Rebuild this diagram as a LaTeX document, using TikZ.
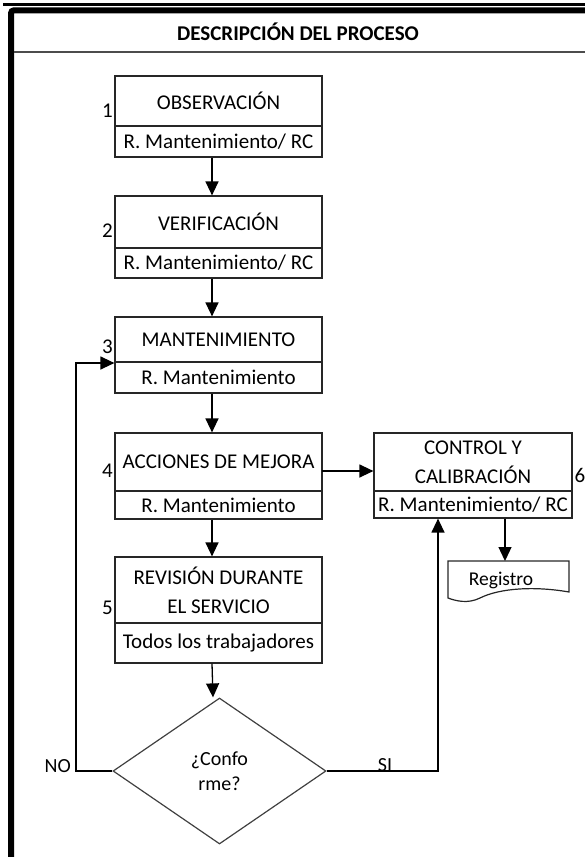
\documentclass[tikz,border=0pt]{standalone}
\usepackage{fontspec}
\setmainfont{Carlito}
\usetikzlibrary{arrows.meta,shapes.geometric}
\tikzset{
  box/.style={draw=black!85, line width=1.2pt, minimum width=207pt, inner sep=0pt, align=center, text=black, font=\fontsize{21}{29}\selectfont},
  rbox/.style={box, minimum width=198pt},
  num/.style={anchor=base east, inner sep=0pt, text=black, font=\fontsize{21}{25}\selectfont},
  lbl/.style={inner sep=0pt, text=black, font=\fontsize{20}{24}\selectfont},
  arr/.style={draw=black, line width=1.3pt, -{Triangle[length=14pt,width=13pt]}},
  ln/.style={draw=black!85, line width=1.3pt},
}
\begin{document}
\begin{tikzpicture}[x=1pt,y=-1pt]
\useasboundingbox (0,0) rectangle (585,857);
% frame
\draw[line width=3.3pt] (3,4.3) -- (590,4.3);
\draw[line width=6pt, rounded corners=3pt] (11,870) -- (11,10.3) -- (590,10.3);
\draw[line width=1.4pt, draw=black!70] (14,52) -- (590,52);
\node[inner sep=0pt, anchor=base, font=\bfseries\fontsize{21}{25}\selectfont] (hdr) at (298,40) {DESCRIPCIÓN DEL PROCESO};
% box 1
\node[box, minimum height=50pt] (b1) at (218.5,101) {OBSERVACIÓN};
\node[box, minimum height=31pt] (b1r) at (218.5,141.5) {R. Mantenimiento/ RC};
% box 2
\node[box, minimum height=52pt] (b2) at (218.5,222) {VERIFICACIÓN};
\node[box, minimum height=30pt] (b2r) at (218.5,263) {R. Mantenimiento/ RC};
% box 3
\node[box, minimum height=45pt] (b3) at (218.5,339.5) {MANTENIMIENTO};
\node[box, minimum height=31pt] (b3r) at (218.5,377.5) {R. Mantenimiento};
% box 4
\node[box, minimum height=58pt] (b4) at (218.5,462) {ACCIONES DE MEJORA};
\node[box, minimum height=28pt] (b4r) at (218.5,505) {R. Mantenimiento};
% box 5
\node[box, minimum height=66pt] (b5) at (218.5,590) {REVISIÓN DURANTE\\EL SERVICIO};
\node[box, minimum height=40pt] (b5r) at (218.5,643) {Todos los trabajadores};
% box 6
\node[rbox, minimum height=58pt] (b6) at (473,462) {CONTROL Y\\CALIBRACIÓN};
\node[rbox, minimum height=27pt] (b6r) at (473,504.5) {R. Mantenimiento/ RC};
% numbers
\node[num] (n1) at (113,117) {1};
\node[num] (n2) at (113,237) {2};
\node[num] (n3) at (113,353) {3};
\node[num] (n4) at (113,477) {4};
\node[num] (n5) at (113,614) {5};
\node[num, anchor=base west] (n6) at (574.5,482) {6};
% document
\draw[ln, line width=1.2pt] (448,561) -- (569,561) -- (569,592) .. controls (535,586) and (500,588) .. (480,598) .. controls (468,604) and (456,601) .. (448,598) -- cycle;
\node[lbl, font=\fontsize{19.5}{23}\selectfont] (reg) at (501,580) {Registro};
% diamond
\node[diamond, draw=black!75, line width=1.2pt, minimum width=213pt, minimum height=146pt, aspect=1.46, inner sep=0pt, align=center, text=black, font=\fontsize{20}{25}\selectfont] (d) at (219.5,771) {¿Confo\\rme?};
% arrows
\draw[arr] ([xshift=-6.5pt]b1r.south) -- ([xshift=-6.5pt]b2.north);
\draw[arr] ([xshift=-6.5pt]b2r.south) -- ([xshift=-6.5pt]b3.north);
\draw[arr] ([xshift=-6.5pt]b3r.south) -- ([xshift=-6.5pt]b4.north);
\draw[arr] ([xshift=-6.5pt]b4r.south) -- ([xshift=-6.5pt]b5.north);
\draw[arr] ([xshift=-6.5pt]b5r.south) -- ([xshift=-6.5pt]d.north);
\coordinate (ar) at (322,471);
\draw[arr] (ar) -- (ar -| b6.west);
\draw[arr] ([xshift=32pt]b6r.south) -- ([xshift=32pt]b6r.south |- 0,561);
\coordinate (nl) at (76,771);
\coordinate (nu) at (76,363);
\draw[arr] (d.west) -- (nl) -- (nu) -- (nu -| b3.west);
\coordinate (sr) at (438,771);
\draw[arr] (d.east) -- (sr) -- (sr |- b6r.south);
\node[lbl, anchor=base east] (no) at (71,772) {NO};
\node[lbl, anchor=base] (si) at (385,771) {SI};
\end{tikzpicture}
\end{document}
